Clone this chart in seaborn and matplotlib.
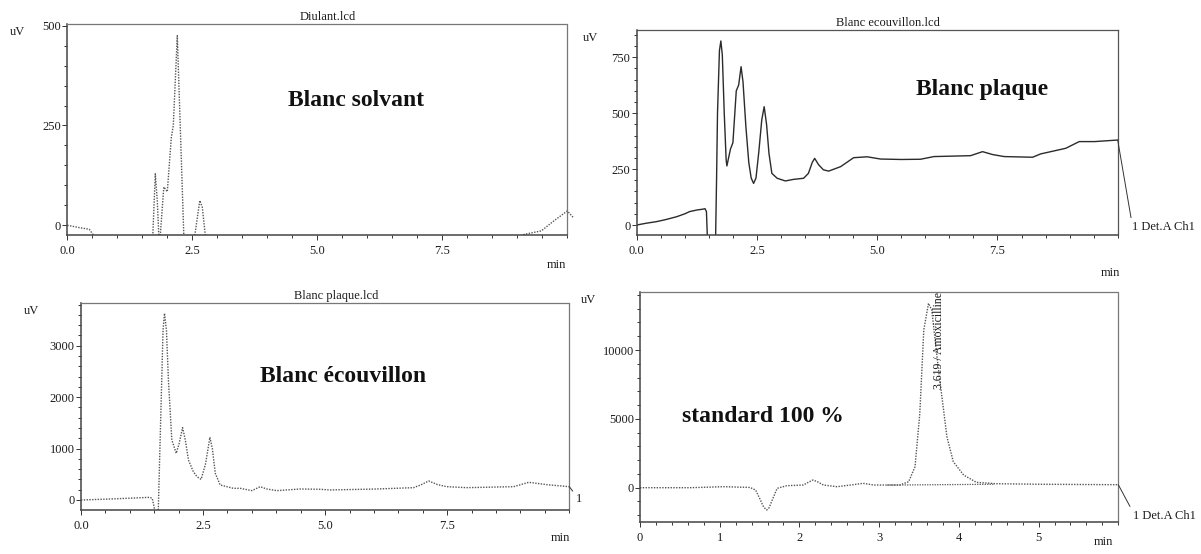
import matplotlib
matplotlib.use("Agg")
import matplotlib.pyplot as plt
import seaborn as sns
from matplotlib.ticker import MultipleLocator, FixedLocator, FuncFormatter
from matplotlib.transforms import Bbox, TransformedBbox

# ---------------- chromatogram traces (time in min, signal in uV) ----------------
diluent_time = [0.0, 0.25, 0.44, 0.52, 0.60, 1.60, 1.71, 1.76, 1.80, 1.83, 1.86,
                1.93, 2.00, 2.08, 2.12, 2.20, 2.33, 2.40, 2.50, 2.55, 2.65, 2.70,
                2.76, 2.85, 9.00, 9.13, 9.48, 9.71, 9.86, 10.0, 10.13]
diluent_signal = [0, -6, -10, -24, -60, -60, -25, 129, 60, -25, -25,
                  96, 84, 220, 250, 475, -25, -60, -60, -25, 62, 45,
                  -25, -60, -60, -23, -14, 9, 23, 36, 18]

plate_time = [0.0, 0.2, 0.41, 0.6, 0.83, 1.0, 1.1, 1.25, 1.38, 1.42, 1.45, 1.47,
              1.64, 1.66, 1.68, 1.72, 1.75, 1.78, 1.82, 1.86, 1.875, 1.91, 1.95,
              2.0, 2.04, 2.07, 2.12, 2.17, 2.21, 2.27, 2.33, 2.38, 2.43, 2.48,
              2.54, 2.60, 2.65, 2.70, 2.75, 2.81, 2.92, 3.09, 3.26, 3.47, 3.57,
              3.65, 3.70, 3.78, 3.88, 3.99, 4.24, 4.51, 4.79, 5.07, 5.5, 5.90,
              6.18, 6.94, 7.19, 7.40, 7.64, 8.23, 8.40, 8.92, 9.20, 9.52, 10.0]
plate_signal = [0, 8, 15, 24, 37, 50, 60, 67, 71, 73, 60, -60,
                -60, 200, 500, 780, 823, 760, 500, 290, 264, 300, 340,
                368, 500, 600, 626, 708, 640, 440, 280, 210, 186, 210,
                330, 470, 529, 450, 320, 231, 209, 197, 204, 209, 231,
                280, 298, 270, 247, 241, 261, 301, 305, 295, 293, 294,
                306, 310, 328, 315, 306, 303, 318, 343, 373, 373, 380]

swab_time = [0.0, 0.59, 1.0, 1.41, 1.46, 1.50, 1.52, 1.58, 1.63, 1.68, 1.71,
             1.75, 1.79, 1.86, 1.95, 2.01, 2.08, 2.14, 2.20, 2.30, 2.38, 2.46,
             2.55, 2.64, 2.69, 2.75, 2.85, 3.12, 3.26, 3.50, 3.67, 3.80, 4.01,
             4.49, 4.90, 5.10, 6.06, 6.81, 6.95, 7.12, 7.30, 7.49, 7.90, 8.86,
             9.17, 9.54, 10.0]
swab_signal = [0, 19, 35, 52, 30, -150, -300, -300, 1500, 3300, 3632,
               3300, 2335, 1167, 908, 1100, 1407, 1150, 778, 551, 450, 402,
               700, 1220, 1000, 519, 292, 227, 227, 182, 259, 215, 182,
               214, 208, 195, 214, 240, 290, 370, 300, 259, 240, 259,
               344, 298, 259]

std_time = [0.0, 0.63, 1.05, 1.38, 1.45, 1.51, 1.55, 1.59, 1.62, 1.65, 1.72,
            1.84, 2.05, 2.12, 2.17, 2.23, 2.30, 2.47, 2.65, 2.80, 2.93, 3.26,
            3.37, 3.45, 3.51, 3.56, 3.619, 3.66, 3.74, 3.85, 3.93, 4.06, 4.22,
            4.47, 5.0, 6.0]
std_signal = [0, 0, 73, 20, -170, -890, -1400, -1620, -1450, -1015, -48,
              145, 196, 420, 559, 420, 196, 73, 200, 317, 196, 196,
              436, 1525, 5400, 11450, 13390, 12900, 8790, 3700, 1890, 920, 390,
              290, 250, 218]
# integration baseline under the amoxicilline peak
peak_base_time = [3.10, 4.45]
peak_base_signal = [190, 250]
peak_time = 3.619
peak_name = "Amoxicilline"

W, H = 1201, 554
sns.set_style("ticks")
plt.rcParams["font.family"] = ["Liberation Serif", "DejaVu Serif"]
plt.rcParams["axes.linewidth"] = 0.9

fig = plt.figure(figsize=(W / 100, H / 100), dpi=100)
fig.patch.set_facecolor("white")


def px_rect(left, top, right, bottom):
    return [left / W, 1 - bottom / H, (right - left) / W, (bottom - top) / H]


def fx(x):
    return x / W


def fy(y):
    return 1 - y / H


TXT = "#1c1c1c"
DOT = (0, (1, 1))


def style_axes(ax, xlim, ylim, xmajor, xfmt, xminor, ymajor, yminor, dotted_frame):
    ax.set_xlim(*xlim)
    ax.set_ylim(*ylim)
    ax.xaxis.set_major_locator(FixedLocator(xmajor))
    ax.xaxis.set_major_formatter(FuncFormatter(xfmt))
    ax.xaxis.set_minor_locator(MultipleLocator(xminor))
    ax.yaxis.set_major_locator(MultipleLocator(ymajor))
    ax.yaxis.set_major_formatter(FuncFormatter(lambda v, p: f"{v:.0f}"))
    ax.yaxis.set_minor_locator(MultipleLocator(yminor))
    ax.tick_params(which="both", direction="out", color="#333", width=0.7,
                   labelsize=9, labelcolor=TXT)
    ax.tick_params(which="major", length=3.5)
    ax.tick_params(which="minor", length=2)
    ax.tick_params(axis="y", pad=1)
    ax.tick_params(axis="x", pad=4)
    ax.set_xlabel("")
    ax.set_ylabel("")
    for side in ["left", "bottom"]:
        ax.spines[side].set_color("#444")
        ax.spines[side].set_linewidth(1.1)
    for side in ["top", "right"]:
        ax.spines[side].set_color("#777" if dotted_frame else "#555")
        ax.spines[side].set_linewidth(0.9)
        if dotted_frame:
            ax.spines[side].set_linestyle(DOT)
    ax.set_facecolor("white")


def extend_clip(ax, line, right=1.02):
    line.set_clip_box(TransformedBbox(Bbox([[0, 0], [right, 1]]), ax.transAxes))


fmt1 = lambda v, p: f"{v:.1f}"
fmt0 = lambda v, p: f"{v:.0f}"

# ---- Diluent ----
ax1 = fig.add_axes(px_rect(67.3, 24.3, 567.3, 235))
sns.lineplot(x=diluent_time, y=diluent_signal, ax=ax1, color="#555",
             linestyle=DOT, linewidth=1.0, sort=False, estimator=None)
extend_clip(ax1, ax1.lines[-1])
style_axes(ax1, (0, 10), (-24.3, 503.5), [0, 2.5, 5, 7.5], fmt1, 0.5, 250, 50, True)

# ---- Blank plate ----
ax2 = fig.add_axes(px_rect(636.7, 30, 1117.7, 235))
sns.lineplot(x=plate_time, y=plate_signal, ax=ax2, color="#2b2b2b",
             linewidth=1.0, sort=False, estimator=None)
style_axes(ax2, (0, 10), (-44.7, 872), [0, 2.5, 5, 7.5], fmt1, 0.5, 250, 50, False)

# ---- Blank swab ----
ax3 = fig.add_axes(px_rect(81, 302.7, 569.3, 510))
sns.lineplot(x=swab_time, y=swab_signal, ax=ax3, color="#555",
             linestyle=DOT, linewidth=1.0, sort=False, estimator=None)
style_axes(ax3, (0, 10), (-194.6, 3838), [0, 2.5, 5, 7.5], fmt1, 0.5, 1000, 200, True)

# ---- Standard 100 % ----
ax4 = fig.add_axes(px_rect(640, 291.7, 1118.3, 521.7))
sns.lineplot(x=std_time, y=std_signal, ax=ax4, color="#555",
             linestyle=DOT, linewidth=1.0, sort=False, estimator=None)
sns.lineplot(x=peak_base_time, y=peak_base_signal, ax=ax4, color="#555",
             linestyle=DOT, linewidth=0.9, sort=False, estimator=None)
style_axes(ax4, (0, 6), (-2469, 14234), [0, 1, 2, 3, 4, 5], fmt0, 0.2, 5000, 1000, True)
ax4.text(3.75, 1.0, f"{peak_time:.3f} / {peak_name}", rotation=90,
         transform=ax4.get_xaxis_transform(), ha="center", va="top",
         fontsize=8.5, color=TXT)

# ---- file titles ----
fig.text(fx(328), fy(16.7), "Diulant.lcd", ha="center", va="center", fontsize=9, color=TXT)
fig.text(fx(888), fy(23.3), "Blanc ecouvillon.lcd", ha="center", va="center", fontsize=9, color=TXT)
fig.text(fx(336), fy(296), "Blanc plaque.lcd", ha="center", va="center", fontsize=9, color=TXT)

# ---- unit labels ----
for (x, y) in [(17, 32), (590, 38), (31.7, 310.7), (588, 300)]:
    fig.text(fx(x), fy(y), "uV", ha="center", va="center", fontsize=9, color=TXT)
for (x, y) in [(556, 265), (1110, 273), (560, 538), (1103, 542)]:
    fig.text(fx(x), fy(y), "min", ha="center", va="center", fontsize=9, color=TXT)

# ---- sample names ----
big = dict(ha="center", va="center", fontsize=17, fontweight="bold", color="#111")
fig.text(fx(356.5), fy(100), "Blanc solvant", **big)
fig.text(fx(981.7), fy(90), "Blanc plaque", **big)
fig.text(fx(343.5), fy(376.7), "Blanc écouvillon", **big)
fig.text(fx(763), fy(416.7), "standard 100 %", **big)

# ---- detector channel tags ----
lead = dict(arrowstyle="-", color="#333", lw=0.7, shrinkA=0, shrinkB=0, relpos=(0, 0.8))
ax2.annotate("1 Det.A Ch1", xy=(plate_time[-1], plate_signal[-1]), xycoords="data",
             xytext=(fx(1132), fy(227)), textcoords="figure fraction",
             ha="left", va="center", fontsize=9, color=TXT,
             arrowprops=lead, annotation_clip=False)
ax3.annotate("1", xy=(swab_time[-1], swab_signal[-1]), xycoords="data",
             xytext=(fx(576), fy(499)), textcoords="figure fraction",
             ha="left", va="center", fontsize=9, color=TXT,
             arrowprops=lead, annotation_clip=False)
ax4.annotate("1 Det.A Ch1", xy=(std_time[-1], std_signal[-1]), xycoords="data",
             xytext=(fx(1133), fy(515.7)), textcoords="figure fraction",
             ha="left", va="center", fontsize=9, color=TXT,
             arrowprops=lead, annotation_clip=False)

fig.savefig("out.png", dpi=100, facecolor="white")
